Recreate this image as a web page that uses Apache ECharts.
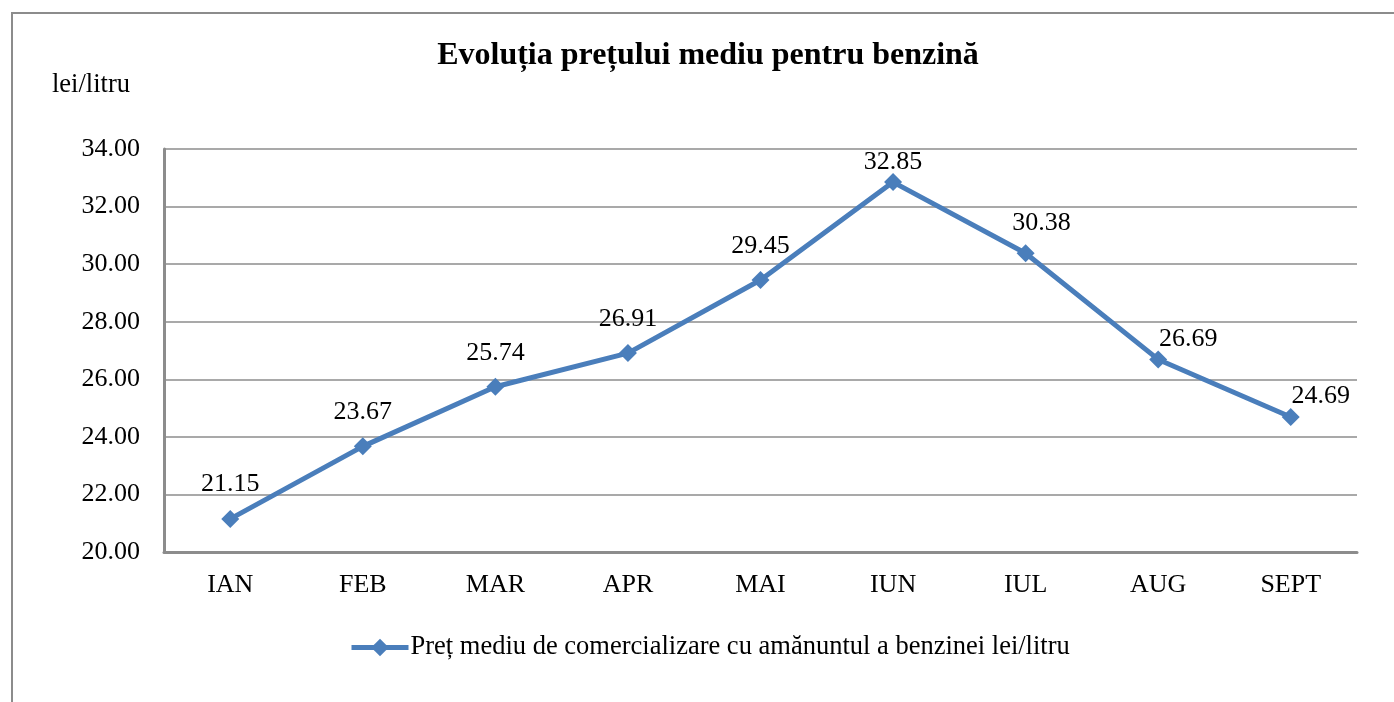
<!DOCTYPE html>
<html>
<head>
<meta charset="utf-8">
<script src="https://cdn.jsdelivr.net/npm/echarts@6/dist/echarts.min.js"></script>
<style>
  html, body { margin: 0; padding: 0; background: #fff; }
  #chart { width: 1394px; height: 702px; }
</style>
</head>
<body>
<div id="chart"></div>
<script>
const months = ['IAN', 'FEB', 'MAR', 'APR', 'MAI', 'IUN', 'IUL', 'AUG', 'SEPT'];
const prices = [21.15, 23.67, 25.74, 26.91, 29.45, 32.85, 30.38, 26.69, 24.69];
const seriesName = 'Preț mediu de comercializare cu amănuntul a benzinei lei/litru';
const titleText = 'Evoluția prețului mediu pentru benzină';
const unitText = 'lei/litru';

const FONT = '"Liberation Serif", "Times New Roman", serif';
const BLUE = '#4a7ebb';
const GRAY = '#8c8c8c';

// Excel places the labels a little differently near the peak and on the right side
const labelNudge = [[0, -5], [0, -4], [0, -4], [0, -4], [0, -4], [0, 10], [16, 0], [30, 10], [30, 9]];

const chart = echarts.init(document.getElementById('chart'));

chart.setOption({
  animation: false,
  backgroundColor: '#fff',
  textStyle: { fontFamily: FONT, color: '#000' },
  title: {
    text: titleText,
    left: 703,
    textAlign: 'center',
    top: 35,
    textStyle: { fontFamily: FONT, fontSize: 32, fontWeight: 'bold', color: '#000' }
  },
  graphic: [
    {
      type: 'rect',
      shape: { x: 12, y: 13, width: 1500, height: 800 },
      style: { fill: 'none', stroke: GRAY, lineWidth: 2 },
      silent: true
    },
    {
      type: 'text',
      left: 52,
      top: 72,
      style: { text: unitText, font: '26.5px ' + FONT, fill: '#000' }
    }
  ],
  legend: {
    data: [seriesName],
    left: 344,
    top: 629,
    itemWidth: 57,
    itemHeight: 22,
    itemGap: 4,
    lineStyle: { width: 5, color: BLUE },
    itemStyle: { color: BLUE },
    textStyle: { fontFamily: FONT, fontSize: 26.5, color: '#000', padding: [0, 0, 0, -3] }
  },
  grid: { left: 164, right: 37, top: 149, bottom: 150 },
  xAxis: {
    type: 'category',
    data: months,
    boundaryGap: true,
    axisLine: { lineStyle: { color: GRAY, width: 3 } },
    axisTick: { show: false },
    axisLabel: { fontFamily: FONT, fontSize: 26, color: '#000', margin: 20 }
  },
  yAxis: {
    type: 'value',
    min: 20,
    max: 34,
    interval: 2,
    axisLine: { show: true, lineStyle: { color: GRAY, width: 3 } },
    axisTick: { show: false },
    splitLine: { lineStyle: { color: GRAY, width: 1.5 } },
    axisLabel: {
      fontFamily: FONT, fontSize: 26, color: '#000', margin: 24,
      formatter: v => v.toFixed(2)
    }
  },
  series: [{
    name: seriesName,
    type: 'line',
    data: prices.map((v, i) => ({ value: v, label: { offset: labelNudge[i] } })),
    symbol: 'diamond',
    symbolSize: 18,
    lineStyle: { color: BLUE, width: 5 },
    itemStyle: { color: BLUE },
    label: {
      show: true,
      position: 'top',
      distance: 8,
      fontFamily: FONT,
      fontSize: 26,
      color: '#000',
      formatter: p => p.value.toFixed(2)
    }
  }]
});
</script>
</body>
</html>
